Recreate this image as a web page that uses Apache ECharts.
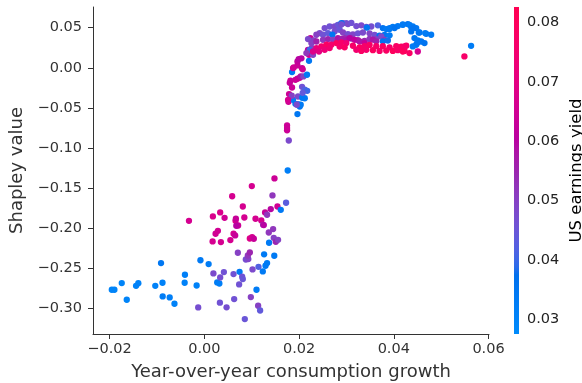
<!DOCTYPE html>
<html>
<head>
<meta charset="utf-8">
<script src="https://cdn.jsdelivr.net/npm/echarts@6/dist/echarts.min.js"></script>
<style>html,body{margin:0;padding:0;background:#fff}#c{width:582px;height:383px}</style>
</head>
<body>
<div id="c"></div>
<script>
// ---- data: [consumption growth, Shapley value, US earnings yield] ----
const lowerTail = [
[-0.01953,-0.2768,0.030],[-0.01898,-0.2768,0.030],[-0.01743,-0.2685,0.030],[-0.01637,-0.2893,0.030],
[-0.01441,-0.2719,0.031],[-0.01393,-0.2687,0.031],[-0.01035,-0.2719,0.031],[-0.00914,-0.2435,0.035],
[-0.00883,-0.2681,0.031],[-0.00879,-0.2852,0.033],[-0.00731,-0.2864,0.032],[-0.00630,-0.2943,0.031],
[-0.00409,-0.2581,0.032],[-0.00415,-0.2681,0.031],[-0.00162,-0.2715,0.031],[-0.00082,-0.2400,0.034],
[0.00091,-0.2448,0.033],[-0.00129,-0.2989,0.047],[-0.00324,-0.1908,0.066],[0.00175,-0.2166,0.066],
[0.00192,-0.2565,0.048],[0.00238,-0.2070,0.065],[0.00287,-0.2033,0.065],[0.00272,-0.2677,0.033],
[0.00318,-0.2690,0.032],[0.00335,-0.2615,0.047],[0.00350,-0.2173,0.066],[0.00181,-0.1854,0.067],
[0.00335,-0.1804,0.067],[0.00428,-0.1871,0.065],[0.00329,-0.2929,0.046],[0.00413,-0.2548,0.046],
[0.00470,-0.2987,0.047],[0.00550,-0.2149,0.066],[0.00588,-0.1602,0.066],[0.00617,-0.2070,0.066],
[0.00651,-0.2091,0.063],[0.00617,-0.2573,0.046],[0.00630,-0.2884,0.046],[0.00659,-0.1908,0.068],
[0.00714,-0.1967,0.064],[0.00666,-0.1883,0.063],[0.00708,-0.2307,0.050],[0.00676,-0.1970,0.060],
[0.00744,-0.2544,0.034],[0.00799,-0.2606,0.046],[0.00813,-0.2635,0.045],[0.00735,-0.2702,0.046],
[0.00813,-0.1730,0.066],[0.00845,-0.1867,0.066],[0.00855,-0.3134,0.045],[0.00877,-0.2391,0.047],
[0.00929,-0.2386,0.049],[0.00919,-0.2341,0.052],[0.00961,-0.2303,0.055],[0.00961,-0.2129,0.068],
[0.01009,-0.2111,0.066],[0.01045,-0.2132,0.063],[0.01003,-0.1475,0.066],[0.00982,-0.2859,0.050],
[0.01018,-0.2515,0.048],[0.01081,-0.1883,0.066],[0.01102,-0.2768,0.033],[0.01136,-0.2968,0.050],
[0.01178,-0.3027,0.044],[0.01144,-0.2482,0.042],[0.01203,-0.1904,0.066],[0.01241,-0.1958,0.055],
[0.01235,-0.2540,0.034],[0.01262,-0.2326,0.034],[0.01292,-0.2469,0.034],[0.01325,-0.2435,0.034],
[0.01256,-0.1962,0.060],[0.01283,-0.1804,0.063],[0.01325,-0.1833,0.052],[0.01361,-0.2054,0.052],
[0.01367,-0.2182,0.034],[0.01403,-0.1762,0.060],[0.01439,-0.1592,0.052],[0.01452,-0.2011,0.052],
[0.01466,-0.2120,0.050],[0.01509,-0.2170,0.055],[0.01557,-0.2145,0.050],[0.01481,-0.1380,0.064],
[0.01477,-0.2344,0.034],[0.01544,-0.1730,0.065],[0.01614,-0.1771,0.034],[0.01726,-0.1683,0.043],
[0.01761,-0.1281,0.032],[0.01783,-0.0907,0.048],[0.01747,-0.0720,0.064],[0.01747,-0.0752,0.064],
[0.01747,-0.0779,0.064]
];
const rise = [
[0.01966,-0.0577,0.035],[0.01776,-0.0424,0.065],[0.01873,-0.0399,0.033],[0.01924,-0.0449,0.035],
[0.01978,-0.0455,0.040],[0.02014,-0.0483,0.036],[0.02035,-0.0461,0.034],[0.01951,-0.0461,0.048],
[0.01789,-0.0328,0.064],[0.01846,-0.0349,0.050],[0.01978,-0.0358,0.048],[0.02067,-0.0374,0.034],
[0.02120,-0.0380,0.034],[0.02063,-0.0237,0.046],[0.02120,-0.0274,0.042],[0.02172,-0.0287,0.040],
[0.02077,-0.0312,0.044],[0.01852,-0.0246,0.064],[0.01818,-0.0162,0.064],[0.01804,-0.0187,0.063],
[0.01924,-0.0150,0.064],[0.01966,-0.0137,0.064],[0.02014,-0.0125,0.063],[0.02035,-0.0106,0.058],
[0.02092,-0.0108,0.050],[0.02168,-0.0087,0.034],[0.01852,-0.0054,0.034],[0.01873,-0.0004,0.064],
[0.01888,0.0004,0.065],[0.01966,0.0029,0.064],[0.02063,-0.0006,0.063],[0.02077,-0.0019,0.065],
[0.01966,0.0079,0.062],[0.01993,0.0108,0.060],[0.02050,0.0118,0.060],[0.02210,0.0087,0.035],
[0.02210,0.0162,0.064],[0.02261,0.0191,0.064],[0.02189,0.0224,0.060],[0.02267,0.0249,0.050],
[0.02240,0.0370,0.063],[0.02309,0.0340,0.050],[0.01768,-0.0399,0.066]
];
const plateauUpper = [
[0.02436,0.0433,0.048],[0.02541,0.0495,0.047],[0.02646,0.0515,0.046],[0.02752,0.0515,0.048],
[0.02821,0.0536,0.045],[0.02927,0.0557,0.047],[0.02998,0.0557,0.046],[0.02893,0.0557,0.036],
[0.02366,0.0412,0.050],[0.02505,0.0412,0.046],[0.02611,0.0433,0.044],[0.02752,0.0453,0.047],
[0.02857,0.0474,0.045],[0.02703,0.0412,0.035],[0.02189,0.0358,0.048],[0.02261,0.0308,0.050],
[0.02225,0.0224,0.040],[0.02155,0.0183,0.052],[0.02295,0.0162,0.050],
[0.02893,0.0540,0.047],[0.03032,0.0545,0.048],[0.03104,0.0560,0.046],[0.03209,0.0520,0.047],
[0.03314,0.0530,0.048],[0.03420,0.0510,0.046],[0.03525,0.0515,0.047],[0.03664,0.0530,0.042],
[0.03769,0.0495,0.036],[0.03841,0.0483,0.034],[0.03911,0.0495,0.035],[0.03980,0.0510,0.033],
[0.04085,0.0520,0.034],[0.04191,0.0540,0.033],[0.04296,0.0545,0.036],[0.03432,0.0500,0.035],
[0.02927,0.0440,0.050],[0.03032,0.0420,0.047],[0.03137,0.0415,0.049],[0.03243,0.0430,0.046],
[0.03348,0.0440,0.048],[0.03489,0.0430,0.049],[0.03595,0.0410,0.047],[0.03700,0.0400,0.036],
[0.03805,0.0410,0.035],[0.03911,0.0405,0.033],[0.03630,0.0358,0.050],[0.03735,0.0390,0.048],
[0.03805,0.0349,0.052]
];
const plateauMiddle = [
[0.02366,0.0328,0.056],[0.02505,0.0349,0.052],[0.02611,0.0358,0.055],[0.02716,0.0349,0.050],
[0.02821,0.0370,0.058],[0.02962,0.0370,0.054],[0.02893,0.0360,0.056],[0.02998,0.0345,0.058],
[0.03104,0.0365,0.054],[0.03243,0.0345,0.057],[0.03384,0.0335,0.055],[0.03489,0.0360,0.052],
[0.03559,0.0350,0.058],[0.03630,0.0330,0.056],[0.03769,0.0330,0.036],[0.03875,0.0340,0.038],
[0.03068,0.0370,0.060],[0.03173,0.0349,0.062],[0.03278,0.0328,0.058],[0.03384,0.0308,0.063]
];
const plateauLower = [
[0.02366,0.0246,0.072],[0.02472,0.0266,0.075],[0.02577,0.0287,0.078],[0.02682,0.0287,0.076],
[0.02788,0.0308,0.079],[0.02893,0.0315,0.077],[0.02998,0.0308,0.074],[0.02295,0.0203,0.068],
[0.02421,0.0203,0.070],[0.02541,0.0224,0.073],[0.02646,0.0246,0.075],
[0.02857,0.0265,0.076],[0.02962,0.0255,0.078],[0.03137,0.0275,0.077],[0.03278,0.0255,0.079],
[0.03384,0.0270,0.076],[0.03489,0.0285,0.078],[0.03630,0.0270,0.077],[0.03769,0.0270,0.079],
[0.03911,0.0255,0.076],[0.04052,0.0270,0.078],[0.04157,0.0265,0.079],[0.04263,0.0275,0.077],
[0.03209,0.0225,0.075],[0.03314,0.0210,0.078],[0.03420,0.0225,0.076],[0.03559,0.0220,0.079],
[0.03700,0.0210,0.077],[0.03841,0.0215,0.078],[0.03980,0.0210,0.080],[0.04085,0.0220,0.077],
[0.04227,0.0210,0.079],[0.04227,0.0266,0.077],[0.04191,0.0203,0.080],[0.04332,0.0183,0.078],
[0.04507,0.0203,0.066]
];
const plateauBlue = [
[0.04191,0.0536,0.034],[0.04332,0.0536,0.033],[0.04402,0.0515,0.034],[0.04473,0.0495,0.035],
[0.04368,0.0453,0.036],[0.04543,0.0440,0.034],[0.04684,0.0424,0.035],[0.04789,0.0412,0.034],
[0.04437,0.0370,0.035],[0.04507,0.0340,0.034],[0.04579,0.0328,0.035],[0.04648,0.0308,0.036],
[0.04473,0.0287,0.034],[0.04402,0.0266,0.033],[0.03911,0.0483,0.034],[0.04016,0.0495,0.036],
[0.04368,0.0508,0.034],[0.04402,0.0495,0.036],[0.04528,0.0440,0.035],[0.04663,0.0433,0.033],
[0.04494,0.0308,0.035]
];
const outliers = [[0.05632,0.0274,0.033],[0.05491,0.0141,0.077]];

const xTicks = [-0.02, 0.00, 0.02, 0.04, 0.06];
const yTicks = [-0.30, -0.25, -0.20, -0.15, -0.10, -0.05, 0.00, 0.05];
const cTicks = [0.03, 0.04, 0.05, 0.06, 0.07, 0.08];
const xRange = [-0.0235, 0.0601];
const yRange = [-0.332, 0.0758];
const cRange = [0.0275, 0.0826];

// ---- SHAP red_blue colormap (LCH interpolation) ----
function lch2hex(L, C, h) {
  const a = C * Math.cos(h), b = C * Math.sin(h);
  const fy = (L + 16) / 116, fx = fy + a / 500, fz = fy - b / 200;
  const inv = t => t > 6 / 29 ? t * t * t : 3 * (6 / 29) * (6 / 29) * (t - 4 / 29);
  const X = 0.95047 * inv(fx), Y = inv(fy), Z = 1.08883 * inv(fz);
  let r = 3.2406 * X - 1.5372 * Y - 0.4986 * Z;
  let g = -0.9689 * X + 1.8758 * Y + 0.0415 * Z;
  let bb = 0.0557 * X - 0.2040 * Y + 1.0570 * Z;
  const gam = v => { v = v <= 0.0031308 ? 12.92 * v : 1.055 * Math.pow(v, 1 / 2.4) - 0.055; return Math.round(Math.max(0, Math.min(1, v)) * 255); };
  return 'rgb(' + gam(r) + ',' + gam(g) + ',' + gam(bb) + ')';
}
function shapColor(t) {
  const L = t < 0.5 ? 54 - 28 * t : 40 + 28 * (t - 0.5);
  const C = 70 + 20 * t;
  const h = 4.6588 + (0.35470565 + 2 * Math.PI - 4.6588) * t;
  return lch2hex(L, C, h);
}
const N = 40;
const cmap = [];
for (let i = 0; i < N; i++) cmap.push(shapColor(i / (N - 1)));
const gradStops = cmap.map((c, i) => ({ offset: 1 - i / (N - 1), color: c }));

const allPoints = [].concat(lowerTail, rise, plateauUpper, plateauMiddle, plateauLower, plateauBlue, outliers);

const FONT = 'DejaVu Sans';
const fmt = v => (v < 0 ? '\u2212' : '') + Math.abs(v).toFixed(2);
const tickColor = '#333333';

const chart = echarts.init(document.getElementById('c'), null, { renderer: 'canvas' });
chart.setOption({
  animation: false,
  backgroundColor: '#ffffff',
  grid: [
    { left: 93, right: 93, top: 7, bottom: 49, containLabel: false, outerBoundsMode: 'none' },
    { left: 514, width: 5, top: 7, bottom: 49, containLabel: false, outerBoundsMode: 'none' }
  ],
  xAxis: [
    {
      type: 'value', gridIndex: 0, min: xRange[0], max: xRange[1],
      name: 'Year-over-year consumption growth', nameLocation: 'middle', nameGap: 29,
      nameTextStyle: { fontFamily: FONT, fontSize: 18, color: tickColor },
      axisLine: { show: true, onZero: false, lineStyle: { color: tickColor, width: 1 } },
      axisTick: { show: true, length: 5, customValues: xTicks, lineStyle: { color: tickColor } },
      axisLabel: { customValues: xTicks, formatter: fmt, fontFamily: FONT, fontSize: 14.5, color: tickColor, margin: 8 },
      splitLine: { show: false }
    },
    { type: 'value', gridIndex: 1, min: 0, max: 1, show: false }
  ],
  yAxis: [
    {
      type: 'value', gridIndex: 0, min: yRange[0], max: yRange[1],
      name: 'Shapley value', nameLocation: 'middle', nameGap: 53, nameRotate: 90,
      nameTextStyle: { fontFamily: FONT, fontSize: 18, color: tickColor },
      axisLine: { show: true, onZero: false, lineStyle: { color: tickColor, width: 1 } },
      axisTick: { show: true, length: 5, customValues: yTicks, lineStyle: { color: tickColor } },
      axisLabel: { customValues: yTicks, formatter: fmt, fontFamily: FONT, fontSize: 14.5, color: tickColor, margin: 11 },
      splitLine: { show: false }
    },
    {
      type: 'value', gridIndex: 1, position: 'right', min: cRange[0], max: cRange[1],
      name: 'US earnings yield', nameLocation: 'middle', nameGap: 49, nameRotate: 90,
      nameTextStyle: { fontFamily: FONT, fontSize: 16.5, color: '#000' },
      axisLine: { show: false },
      axisTick: { show: true, length: 4, customValues: cTicks, lineStyle: { color: tickColor } },
      axisLabel: { customValues: cTicks, formatter: v => v.toFixed(2), fontFamily: FONT, fontSize: 14.5, color: '#222', margin: 8 },
      splitLine: { show: false }
    }
  ],
  visualMap: {
    type: 'continuous', show: false, dimension: 2, seriesIndex: 0,
    min: cRange[0], max: cRange[1], inRange: { color: cmap }
  },
  graphic: [{
    type: 'rect', left: 514, top: 7, z: 10,
    shape: { width: 5, height: 327 },
    style: { fill: new echarts.graphic.LinearGradient(0, 0, 0, 1, gradStops) }
  }],
  series: [{
    type: 'scatter', xAxisIndex: 0, yAxisIndex: 0,
    data: allPoints, symbolSize: 6.3,
    itemStyle: { opacity: 1 }
  }]
});
</script>
</body>
</html>
